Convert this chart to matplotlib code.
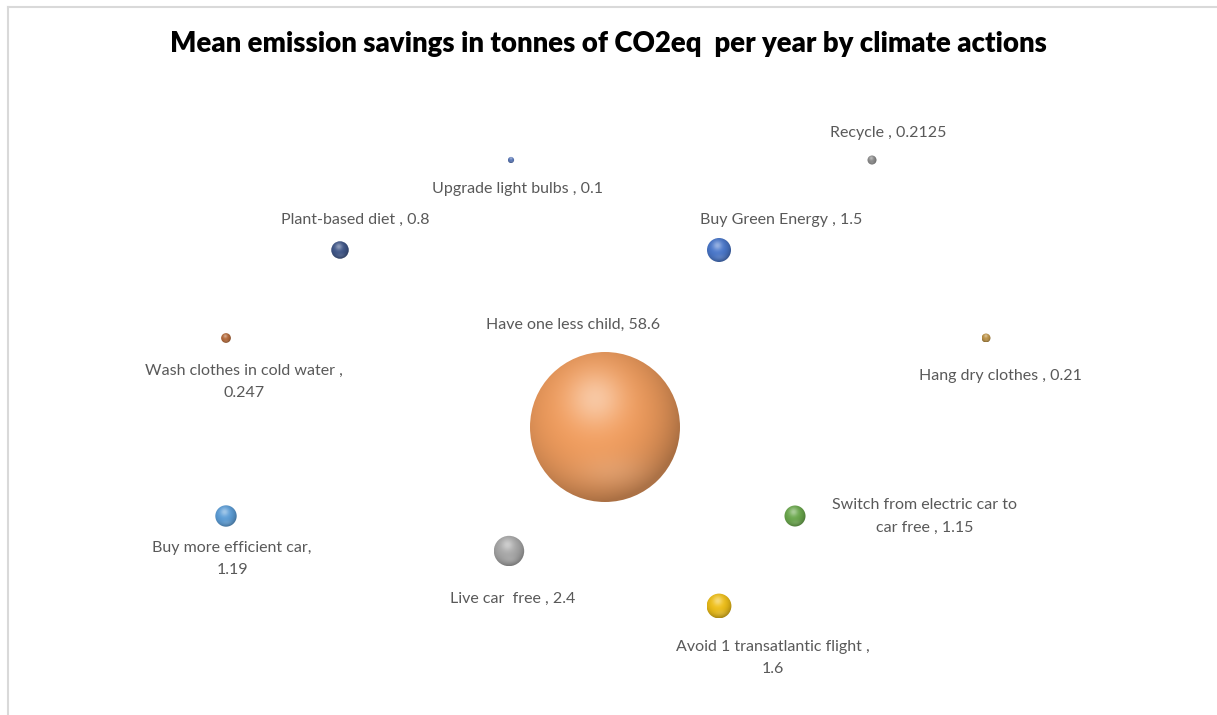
import numpy as np
import matplotlib.pyplot as plt
from matplotlib.patches import Circle
from matplotlib.colors import to_rgb
from matplotlib.lines import Line2D

# bubble chart data (x, y are chart coordinates, value = bubble size)
actions = ["Have one less child", "Recycle ", "Upgrade light bulbs ", "Plant-based diet ",
           "Buy Green Energy ", "Wash clothes in cold water ", "Hang dry clothes ",
           "Buy more efficient car", "Switch from electric car to\ncar free ", "Live car  free ",
           "Avoid 1 transatlantic flight "]
savings = [58.6, 0.2125, 0.1, 0.8, 1.5, 0.247, 0.21, 1.19, 1.15, 2.4, 1.6]
value_text = ["58.6", "0.2125", "0.1", "0.8", "1.5", "0.247", "0.21", "1.19", "1.15", "2.4", "1.6"]
x_pos = [60.5, 87.2, 51.1, 34.0, 71.9, 22.6, 98.6, 22.6, 79.5, 50.9, 71.9]
y_pos = [28.8, 55.5, 55.5, 46.5, 46.5, 37.7, 37.7, 19.9, 19.9, 16.4, 10.9]

colors = ["#F39E5E", "#8A8A8A", "#5A78B8", "#3F5688", "#4A78CC", "#B56A3A",
          "#BE9448", "#5C9ED8", "#6AA84C", "#A9A9A9", "#F0C018"]

# label placement: (dx, dy) in pixels, joiner between name and value
label_off = [(-32, 102), (16, 27), (6, -29), (15, 30), (62, 30), (18, -44), (14, -38),
             (6, -43), (130, 0), (4, -48), (54, -52)]
joiner = [", ", ", ", ", ", ", ", ", ", ",\n", ", ", ",\n", ", ", ", ", ",\n"]

W, H = 1217, 715
fig = plt.figure(figsize=(W / 100, H / 100), dpi=100)
ax = fig.add_axes([0, 0, 1, 1])
ax.set_xlim(0, W / 10)
ax.set_ylim(0, H / 10)
ax.set_aspect("equal")
ax.axis("off")

k = 7.5 / np.sqrt(58.6)  # radius scale, area proportional to value

n = 200
u, v = np.meshgrid(np.linspace(-1, 1, n), np.linspace(1, -1, n))

for i in range(len(actions)):
    r = k * np.sqrt(savings[i])
    base = np.array(to_rgb(colors[i]))
    shade = 1.0 - 0.30 * np.clip(np.sqrt((u + 0.15) ** 2 + (v - 0.2) ** 2) / 1.2, 0, 1) ** 3
    d = np.sqrt((u + 0.13) ** 2 + (v - 0.38) ** 2)
    hl = 0.42 * np.exp(-(d / 0.38) ** 2)
    glow = 0.12 * np.exp(-(((u - 0.1) / 0.5) ** 2 + ((v + 0.6) / 0.25) ** 2))
    img = base[None, None, :] * shade[..., None]
    img = img + (1 - img) * (hl + glow)[..., None]
    img = np.clip(img, 0, 1)
    circ = Circle((x_pos[i], y_pos[i]), r, transform=ax.transData, facecolor="none", edgecolor="none")
    ax.add_patch(circ)
    im = ax.imshow(img, extent=[x_pos[i] - r, x_pos[i] + r, y_pos[i] - r, y_pos[i] + r],
                   interpolation="bilinear", zorder=2)
    im.set_clip_path(circ)

for i in range(len(actions)):
    txt = actions[i] + joiner[i] + value_text[i]
    ax.annotate(txt, (x_pos[i], y_pos[i]), xytext=(label_off[i][0] * 0.72, label_off[i][1] * 0.72),
                textcoords="offset points", ha="center", va="center", fontsize=11.5,
                color="#595959", family="Lato", linespacing=1.8, zorder=3)

fig.text(0.5, 1 - 44 / H, "Mean emission savings in tonnes of CO2eq  per year by climate actions",
         ha="center", va="center", fontsize=19.8, fontweight="heavy", family="Lato", color="#000000")

# chart frame (top and left edges visible)
fig.add_artist(Line2D([8 / W, 1], [1 - 7 / H, 1 - 7 / H], color="#D9D9D9", lw=1.5, transform=fig.transFigure))
fig.add_artist(Line2D([8 / W, 8 / W], [0, 1 - 7 / H], color="#D9D9D9", lw=1.5, transform=fig.transFigure))

fig.savefig("out.png", dpi=100, facecolor="white")
